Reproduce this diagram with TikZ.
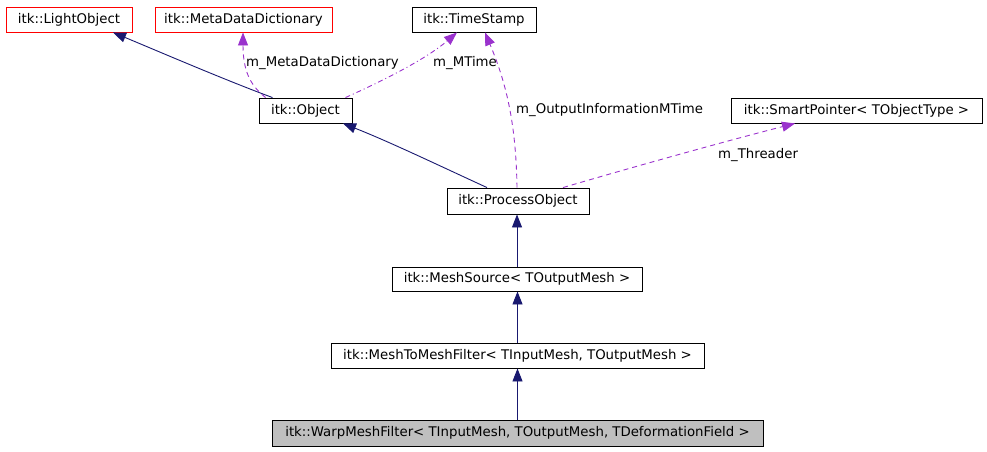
\documentclass[tikz,border=0pt]{standalone}
\usepackage{fontspec}
\setmainfont{DejaVu Sans}
\usepackage{tikz}
\usetikzlibrary{positioning,calc,arrows.meta}

\definecolor{inhblue}{HTML}{191970}
\definecolor{usepurple}{HTML}{9A32CD}
\definecolor{curgray}{HTML}{BFBFBF}

\begin{document}
\begin{tikzpicture}[x=1pt, y=-1pt,
		every node/.style={font=\fontsize{13.3}{15}\selectfont, inner sep=0pt},
		cls/.style={draw=black, line width=0.9pt, fill=white, minimum height=25pt, align=center},
		extcls/.style={cls, draw=red},
		curcls/.style={cls, fill=curgray, minimum height=26pt},
		inh/.style={draw=inhblue, line width=0.9pt, -{Triangle[length=13pt, width=10pt]}},
		uses/.style={draw=usepurple, line width=0.9pt, dash pattern=on 5pt off 4pt, -{Triangle[length=13pt, width=10pt]}},
		usesdot/.style={uses, dash pattern=on 5pt off 3pt on 1pt off 3pt},
		lbl/.style={anchor=west}]
		\useasboundingbox (0,0) rectangle (987,451);
		% classes
		\node[extcls, minimum width=126pt] (LightObj) at (69,19.5) {itk::LightObject};
		\node[extcls, minimum width=177pt] (MetaDict) at (243.5,19.5) {itk::MetaDataDictionary};
		\node[cls, minimum width=124pt] (TimeStamp) at (474,19.5) {itk::TimeStamp};
		\node[cls, minimum width=93pt] (Obj) at (305.5,110.5) {itk::Object};
		\node[cls, minimum width=251pt] (SmartPtr) at (856.5,110.5) {itk::SmartPointer\textless{} TObjectType \textgreater};
		\node[cls, minimum width=142pt, minimum height=26pt] (ProcObj) at (518,201) {itk::ProcessObject};
		\node[cls, minimum width=250pt, minimum height=24pt] (MeshSrc) at (517,279) {itk::MeshSource\textless{} TOutputMesh \textgreater};
		\node[cls, minimum width=373pt] (MeshFilter) at (517.5,355.5) {itk::MeshToMeshFilter\textless{} TInputMesh, TOutputMesh \textgreater};
		\node[curcls, minimum width=491pt] (WarpFilter) at (517.5,433) {itk::WarpMeshFilter\textless{} TInputMesh, TOutputMesh, TDeformationField \textgreater};

		% inheritance
		\draw[inh] ([xshift=-33pt]Obj.north) .. controls (225,80) and (160,52) .. ([xshift=44pt]LightObj.south);
		\draw[inh] ([xshift=-31pt]ProcObj.north) .. controls (440,166) and (390,142) .. ([xshift=37.5pt]Obj.south);
		\draw[inh] (MeshSrc.north) -- (MeshSrc.north |- ProcObj.south);
		\draw[inh] (MeshFilter.north) -- (MeshFilter.north |- MeshSrc.south);
		\draw[inh] (WarpFilter.north) -- (WarpFilter.north |- MeshFilter.south);

		% members
		\draw[uses] ([xshift=-40pt]Obj.north) .. controls (254,88) and (243,76) .. ([xshift=-0.5pt]MetaDict.south);
		\draw[usesdot] ([xshift=40pt]Obj.north) .. controls (380,82) and (425,60) .. ([xshift=-17pt]TimeStamp.south);
		\draw[uses] ([xshift=-1pt]ProcObj.north) .. controls (516,120) and (505,80) .. ([xshift=11pt]TimeStamp.south);
		\draw[uses] ([xshift=45pt]ProcObj.north) .. controls (640,165) and (730,140) .. ([xshift=-61.5pt]SmartPtr.south);

		\node[lbl] (lMeta) at (246,63) {m\_MetaDataDictionary};
		\node[lbl] (lMTime) at (433,63) {m\_MTime};
		\node[lbl] (lOutInfo) at (516,110) {m\_OutputInformationMTime};
		\node[lbl] (lThreader) at (718,155) {m\_Threader};
	\end{tikzpicture}
\end{document}
